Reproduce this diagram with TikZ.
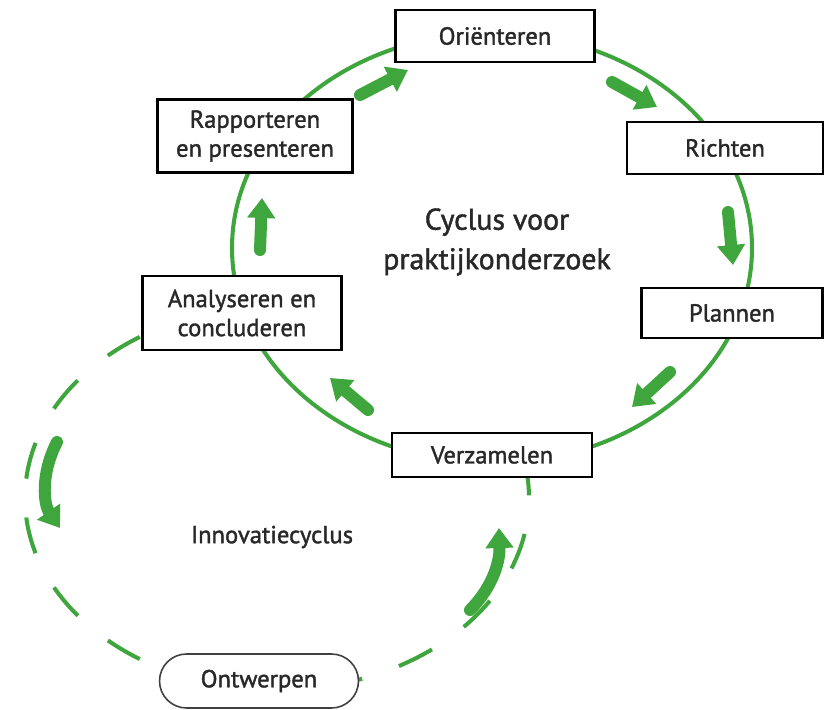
\documentclass[tikz,border=0pt]{standalone}
\usepackage{fontspec}
\setmainfont{PT Sans}[UprightFeatures={FakeBold=1.5}]
\usepackage{xcolor}
\usetikzlibrary{arrows.meta,positioning}
\definecolor{cyclegreen}{RGB}{62,166,60}
\definecolor{cycletext}{RGB}{40,40,40}
\tikzset{
  stepbox/.style={
    rectangle,
    draw=black,
    line width=1.4pt,
    fill=white,
    align=center,
    text=cycletext,
    inner sep=2pt,
    font=\fontsize{14}{16.5}\selectfont
  },
  designbox/.style={
    rectangle,
    rounded corners=0.54cm,
    draw=black!75,
    line width=0.9pt,
    fill=white,
    align=center,
    text=cycletext,
    minimum width=3.98cm,
    minimum height=1.08cm,
    font=\fontsize{14}{16.5}\selectfont
  },
  cycleline/.style={
    draw=cyclegreen,
    line width=2.3pt
  },
  cyclearrow/.style={
    -{Triangle[length=0.4cm,width=0.54cm]},
    line width=0.24cm,
    line cap=round,
    draw=cyclegreen
  }
}

\begin{document}
\begin{tikzpicture}[x=0.02cm, y=-0.02cm]
\useasboundingbox (0,0) rectangle (825,710);

% both cycles
\draw[cycleline] (492,248) ellipse [x radius=260, y radius=215];
\draw[cycleline, dash pattern=on 0.74cm off 0.78cm]
  (277,498) ++(237:252 and 192) arc [start angle=237, end angle=-7, x radius=252, y radius=192];

% steps of the research cycle
\node[stepbox, minimum width=3.98cm, minimum height=1.04cm] (orient) at (495,36) {Oriënteren};
\node[stepbox, minimum width=3.92cm, minimum height=1.04cm] (richten) at (725,148) {Richten};
\node[stepbox, minimum width=3.62cm, minimum height=1.0cm] (plannen) at (732,313) {Plannen};
\node[stepbox, minimum width=4.0cm, minimum height=0.88cm] (verzamel) at (492,455) {Verzamelen};
\node[stepbox, minimum width=3.98cm, minimum height=1.48cm] (analyse) at (242,313) {Analyseren en\\concluderen};
\node[stepbox, minimum width=3.9cm, minimum height=1.46cm] (rapport) at (255,136) {Rapporteren\\en presenteren};
\node[designbox] (ontwerp) at (259,681) {Ontwerpen};

% titles
\node[text=cycletext, align=center, font=\fontsize{17}{22.5}\selectfont] (title) at (497,242) {Cyclus voor\\praktijkonderzoek};
\node[text=cycletext, font=\fontsize{14}{16.5}\selectfont] (innov) at (272,537) {Innovatiecyclus};

% direction arrows
\draw[cyclearrow] (360,95) -- (408,70);
\draw[cyclearrow] (612,82) -- (657,107);
\draw[cyclearrow] (728,212) -- (733,265);
\draw[cyclearrow] (670,372) -- (632,407);
\draw[cyclearrow] (368,410) -- (330,378);
\draw[cyclearrow] (260,250) -- (262,198);
\draw[cyclearrow] (57,442) .. controls (40,475) and (44,505) .. (60,528);
\draw[cyclearrow] (470,610) .. controls (490,590) and (500,565) .. (499,528);
\end{tikzpicture}
\end{document}
